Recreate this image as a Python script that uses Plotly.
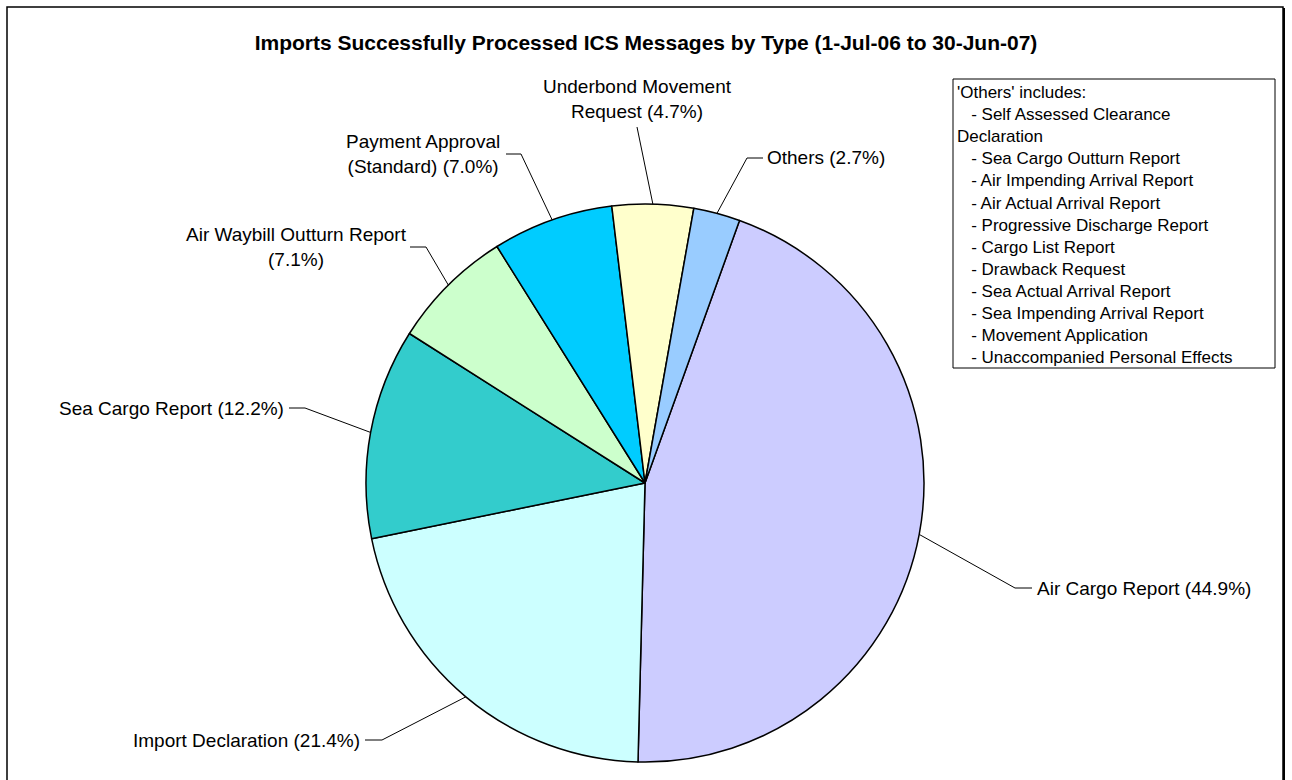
import math
import plotly.graph_objects as go

# ---------------- data ----------------
categories = ["Air Cargo Report", "Import Declaration", "Sea Cargo Report",
              "Air Waybill Outturn Report", "Payment Approval (Standard)",
              "Underbond Movement Request", "Others"]
shares = [44.9, 21.4, 12.2, 7.1, 7.0, 4.7, 2.7]
colors = ["#CCCCFF", "#CCFFFF", "#33CCCC", "#CCFFCC", "#00CCFF", "#FFFFCC", "#99CCFF"]
label_texts = ["Air Cargo Report (44.9%)", "Import Declaration (21.4%)",
               "Sea Cargo Report (12.2%)", "Air Waybill Outturn Report<br>(7.1%)",
               "Payment Approval<br>(Standard) (7.0%)", "Underbond Movement<br>Request (4.7%)",
               "Others (2.7%)"]
others_list = ["Self Assessed Clearance", "Sea Cargo Outturn Report",
               "Air Impending Arrival Report", "Air Actual Arrival Report",
               "Progressive Discharge Report", "Cargo List Report", "Drawback Request",
               "Sea Actual Arrival Report", "Sea Impending Arrival Report",
               "Movement Application", "Unaccompanied Personal Effects"]
title_text = "Imports Successfully Processed ICS Messages by Type (1-Jul-06 to 30-Jun-07)"

# ---------------- layout geometry (pixels) ----------------
W, H = 1292, 780
CX, CY, R = 645, 483, 279
ROT = 19.8
FONT = "Arial, Liberation Sans, sans-serif"


def px(x):
    return x / W


def py(y):
    return 1 - y / H


# label placement: (text anchor x, y, xanchor, elbow x, end x or None)
label_layout = [
    (1035, 588, "left", 1015, 1032),
    (362, 740, "right", 382, 365),
    (286, 408, "right", 305, 289),
    (296, 247, "center", 426, 410),
    (423, 154, "center", 521, 506),
    (637, 99, "center", None, None),
    (765, 158, "left", 747, 763),
]

fig = go.Figure()
fig.add_trace(go.Pie(
    labels=categories, values=shares, sort=False, direction="clockwise",
    rotation=ROT, textinfo="none", showlegend=False,
    marker=dict(colors=colors, line=dict(color="black", width=1.5)),
    domain=dict(x=[px(CX - R), px(CX + R)], y=[py(CY + R), py(CY - R)]),
))

total = sum(shares)
cum = 0.0
shapes = []
annotations = []
for v, txt, (tx, ty, xa, ex, endx) in zip(shares, label_texts, label_layout):
    ang = math.radians(ROT + 360.0 * (cum + v / 2.0) / total)
    cum += v
    sx = CX + R * math.sin(ang)
    sy = CY - R * math.cos(ang)
    if ex is None:
        path = f"M {px(sx)},{py(sy)} L {px(tx)},{py(ty + 28)}"
    else:
        path = f"M {px(sx)},{py(sy)} L {px(ex)},{py(ty)} L {px(endx)},{py(ty)}"
    shapes.append(dict(type="path", xref="paper", yref="paper", path=path,
                       line=dict(color="black", width=1)))
    annotations.append(dict(x=px(tx), y=py(ty), xref="paper", yref="paper",
                            text=txt, showarrow=False, xanchor=xa, yanchor="middle",
                            align="center", font=dict(family=FONT, size=19, color="black")))

# 'Others' text box
ind = "\u00a0" * 3
box_lines = ["'Others' includes:", ind + "- " + others_list[0], "Declaration"] + \
            [ind + "- " + s for s in others_list[1:]]
annotations.append(dict(x=px(955), y=py(81), xref="paper", yref="paper",
                        text="<br>".join(box_lines), showarrow=False,
                        xanchor="left", yanchor="top", align="left",
                        font=dict(family=FONT, size=17, color="black")))
shapes.append(dict(type="rect", xref="paper", yref="paper",
                   x0=px(953), x1=px(1275), y0=py(368), y1=py(79),
                   line=dict(color="black", width=1)))

# outer chart border
shapes.append(dict(type="rect", xref="paper", yref="paper",
                   x0=px(7), x1=px(1283), y0=py(800), y1=py(7),
                   line=dict(color="black", width=1.5)))
shapes.append(dict(type="line", xref="paper", yref="paper",
                   x0=px(1284), x1=px(1284), y0=py(800), y1=py(8),
                   line=dict(color="black", width=2)))

fig.update_layout(
    width=W, height=H, autosize=False,
    margin=dict(l=0, r=0, t=0, b=0),
    paper_bgcolor="white", plot_bgcolor="white",
    title=dict(text="<b>" + title_text + "</b>", x=0.5, xanchor="center",
               y=py(43), yanchor="middle", yref="container",
               font=dict(family=FONT, size=21, color="black")),
    shapes=shapes, annotations=annotations,
)

fig.write_html("out.html", config={"displayModeBar": False},
               post_script="document.body.style.margin='0';document.body.style.overflow='hidden';")
